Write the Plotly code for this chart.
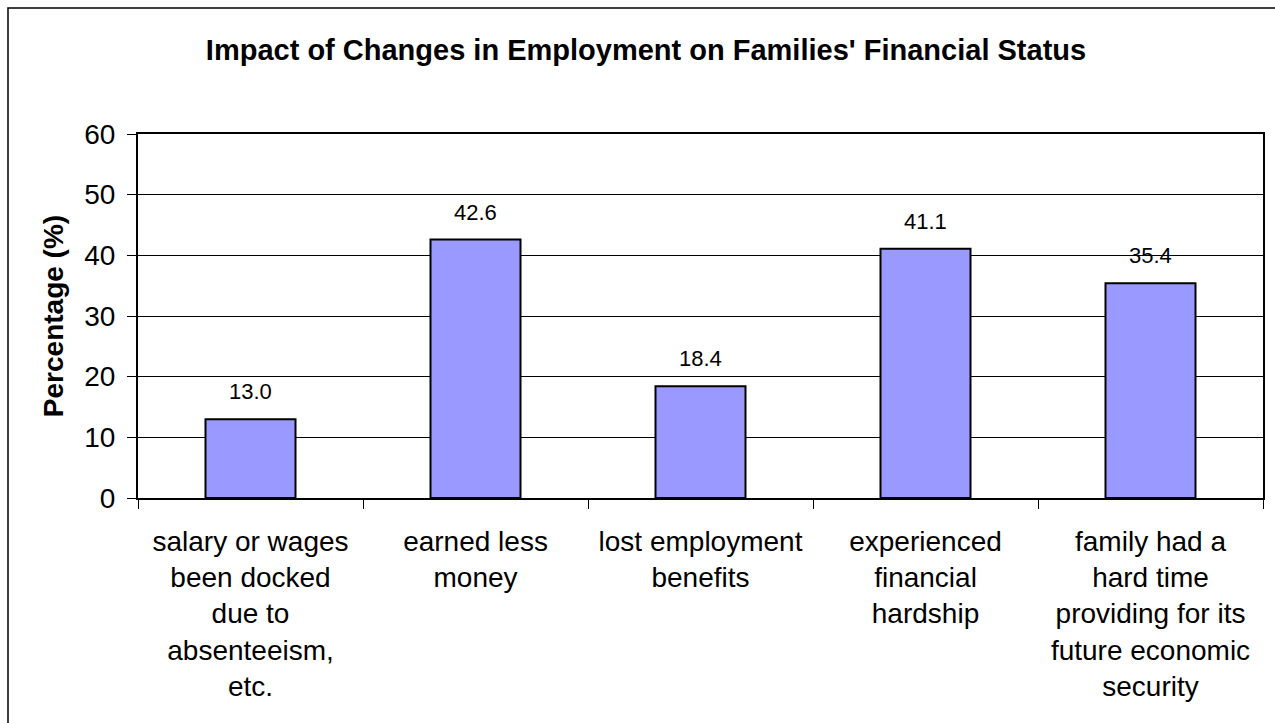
import plotly.graph_objects as go

# Survey results: share of families reporting each employment-related impact
categories = [
    "salary or wages<br>been docked<br>due to<br>absenteeism,<br>etc.",
    "earned less<br>money",
    "lost employment<br>benefits",
    "experienced<br>financial<br>hardship",
    "family had a<br>hard time<br>providing for its<br>future economic<br>security",
]
percentages = [13.0, 42.6, 18.4, 41.1, 35.4]
y_ticks = [0, 10, 20, 30, 40, 50, 60]

W, H = 1275, 723
M_L, M_R, M_T, M_B = 138, 12, 134, 225
FONT = "Liberation Sans, Arial, sans-serif"

fig = go.Figure()
fig.add_trace(go.Bar(
    x=categories,
    y=percentages,
    marker=dict(color="#9999FF", line=dict(color="#000000", width=2)),
    hoverinfo="skip",
))

# value labels above each bar
for cat, val in zip(categories, percentages):
    fig.add_annotation(
        x=cat, y=val, text=f"{val:.1f}", showarrow=False,
        yanchor="bottom", yshift=13,
        font=dict(family=FONT, size=22, color="#000000"),
    )

# outer chart frame (extends past the right and bottom edges of the page)
pw = W - M_L - M_R
ph = H - M_T - M_B
fig.add_shape(
    type="rect", xref="paper", yref="paper",
    x0=(8 - M_L) / pw, x1=(W + 10 - M_L) / pw,
    y0=-(H + 10 - (H - M_B)) / ph, y1=1 + (M_T - 8) / ph,
    line=dict(color="#000000", width=1.5), layer="below",
)

fig.update_layout(
    width=W, height=H,
    margin=dict(l=M_L, r=M_R, t=M_T, b=M_B, autoexpand=False),
    paper_bgcolor="#FFFFFF", plot_bgcolor="#FFFFFF",
    bargap=0.6,
    showlegend=False,
    title=dict(
        text="<b>Impact of Changes in Employment on Families' Financial Status</b>",
        x=646 / W, xanchor="center", y=1 - 50 / H, yanchor="middle",
        font=dict(family=FONT, size=29, color="#000000"),
    ),
    font=dict(family=FONT, size=28, color="#000000"),
)

fig.update_xaxes(
    type="category",
    tickson="boundaries",
    ticks="outside", ticklen=9, tickwidth=1, tickcolor="#000000",
    showline=True, linecolor="#000000", linewidth=2, mirror=True,
    showgrid=False,
    tickfont=dict(family=FONT, size=28, color="#000000"),
    ticklabelstandoff=17,
)

fig.update_yaxes(
    range=[0, 60],
    tickvals=y_ticks,
    ticks="outside", ticklen=9, tickwidth=1, tickcolor="#000000",
    showline=True, linecolor="#000000", linewidth=2, mirror=True,
    showgrid=True, gridcolor="#000000", gridwidth=1,
    zeroline=False,
    tickfont=dict(family=FONT, size=28, color="#000000"),
    ticklabelstandoff=6,
    title=dict(text="<b>Percentage (%)</b>", font=dict(family=FONT, size=28, color="#000000"), standoff=12),
)

fig.write_html("out.html")
